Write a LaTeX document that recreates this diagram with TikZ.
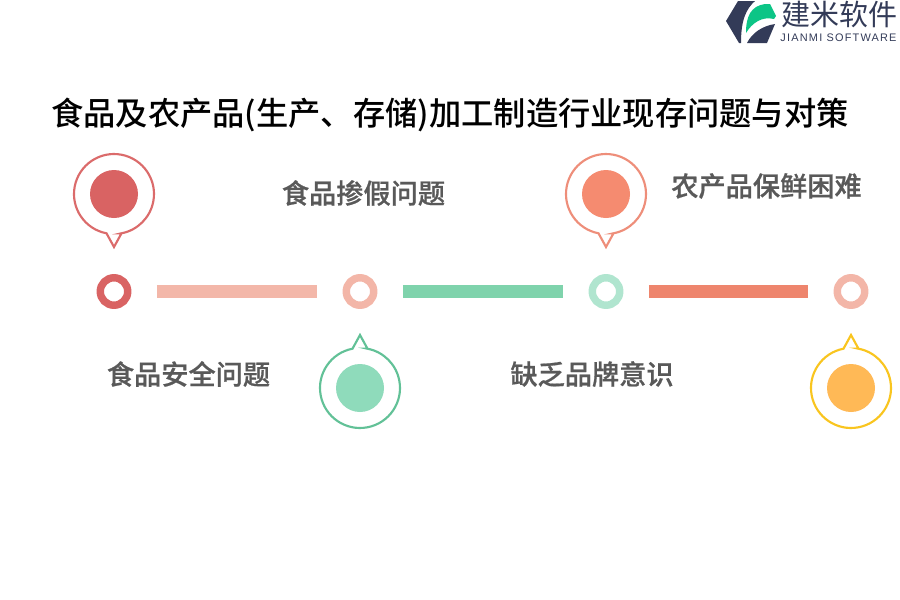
\documentclass[tikz,border=0pt]{standalone}
\usepackage{fontspec}
\setmainfont{Noto Sans CJK SC}
\newfontfamily\cjkmedium{Noto Sans CJK SC Medium}
\newfontfamily\cjklabel[FakeBold=0.7]{Noto Sans CJK SC Medium}
\newfontfamily\brandfont[LetterSpace=11]{Liberation Sans}
\usetikzlibrary{calc}
\definecolor{redmain}{HTML}{D96363}
\definecolor{redline}{HTML}{DB6B6B}
\definecolor{ringpale}{HTML}{F3B6A8}
\definecolor{barpale}{HTML}{F3B7A9}
\definecolor{greenbar}{HTML}{7FD3AC}
\definecolor{greenline}{HTML}{62C197}
\definecolor{greenfill}{HTML}{8FDBBB}
\definecolor{ringmint}{HTML}{B0E5CF}
\definecolor{salmonfill}{HTML}{F58B70}
\definecolor{salmonline}{HTML}{EE8E7A}
\definecolor{salmonbar}{HTML}{EE856D}
\definecolor{yellowline}{HTML}{F9C51F}
\definecolor{yellowfill}{HTML}{FFB956}
\definecolor{logodark}{HTML}{333B58}
\definecolor{logogreen}{HTML}{0CC586}
\definecolor{labelgray}{HTML}{595959}

\begin{document}
\begin{tikzpicture}[x=0.75pt, y=-0.75pt,
  ringnode/.style={circle, line width=5.6pt, fill=white, minimum size=20.6pt, inner sep=0pt},
  barline/.style={draw=#1, line width=9.75pt, shorten <=19pt, shorten >=19pt},
  disc/.style={circle, fill=#1, minimum size=36pt, inner sep=0pt},
  textlabel/.style={text=labelgray, font=\cjklabel\fontsize{20.4pt}{24pt}\selectfont, inner sep=0pt},
]
  \useasboundingbox (0,0) rectangle (900,600);
  % logo
  \fill[logodark] (738,1) -- (755,1) .. controls (746,9) and (741,20) .. (741,43) -- (739,43) -- (726,21) -- cycle;
  \fill[logodark] (747,43) -- (767,43) -- (775,24) .. controls (762,26) and (752,33) .. cycle;
  \fill[logogreen] (746,33) .. controls (746,16) and (751,6) .. (765,4) -- (770,4) -- (776,16) -- (774,19) .. controls (762,16) and (752,23) .. cycle;
  \node[text=logodark, font=\fontsize{21.75pt}{24pt}\selectfont, inner sep=0pt] (brand) at (839.5,14) {建米软件};
  \node[text=logodark, font=\brandfont\fontsize{8.2pt}{10pt}\selectfont, inner sep=0pt] (brandeng) at (838.5,38) {JIANMI SOFTWARE};
  % title
  \node[font=\cjkmedium\fontsize{24.2pt}{28pt}\selectfont, inner sep=0pt] (title) at (450,115) {食品及农产品(生产、存储)加工制造行业现存问题与对策};
  % timeline
  \node[ringnode, draw=redmain] (ringa) at (114,291.5) {};
  \node[ringnode, draw=ringpale] (ringb) at (360,291.5) {};
  \node[ringnode, draw=ringmint] (ringc) at (606,291.5) {};
  \node[ringnode, draw=ringpale] (ringd) at (851,291.5) {};
  \draw[barline=barpale] (ringa) -- (ringb);
  \draw[barline=greenbar] (ringb) -- (ringc);
  \draw[barline=salmonbar] (ringc) -- (ringd);
  % pins
  \foreach \cx/\cy/\dir/\col in {114/194/1/redline, 360/388/-1/greenline, 606/194/1/salmonline, 851/388/-1/yellowline}
    \draw[\col, line width=1.6pt, fill=white]
      ($(\cx,\cy)+(7.5,\dir*39.3)$) -- ($(\cx,\cy)+(0,\dir*53)$) -- ($(\cx,\cy)+(-7.5,\dir*39.3)$)
      arc[start angle=\dir*100.8, delta angle=\dir*338.4, radius=40] -- cycle;
  \node[disc=redmain] (pina) at (114,194) {};
  \node[disc=greenfill] (pinb) at (360,388) {};
  \node[disc=salmonfill] (pinc) at (606,194) {};
  \node[disc=yellowfill] (pind) at (851,388) {};
  % labels
  \node[textlabel] (texta) at (188.5,374) {食品安全问题};
  \node[textlabel] (textb) at (363.5,193) {食品掺假问题};
  \node[textlabel] (textc) at (592,374) {缺乏品牌意识};
  \node[textlabel] (textd) at (766.5,186) {农产品保鲜困难};
\end{tikzpicture}
\end{document}
